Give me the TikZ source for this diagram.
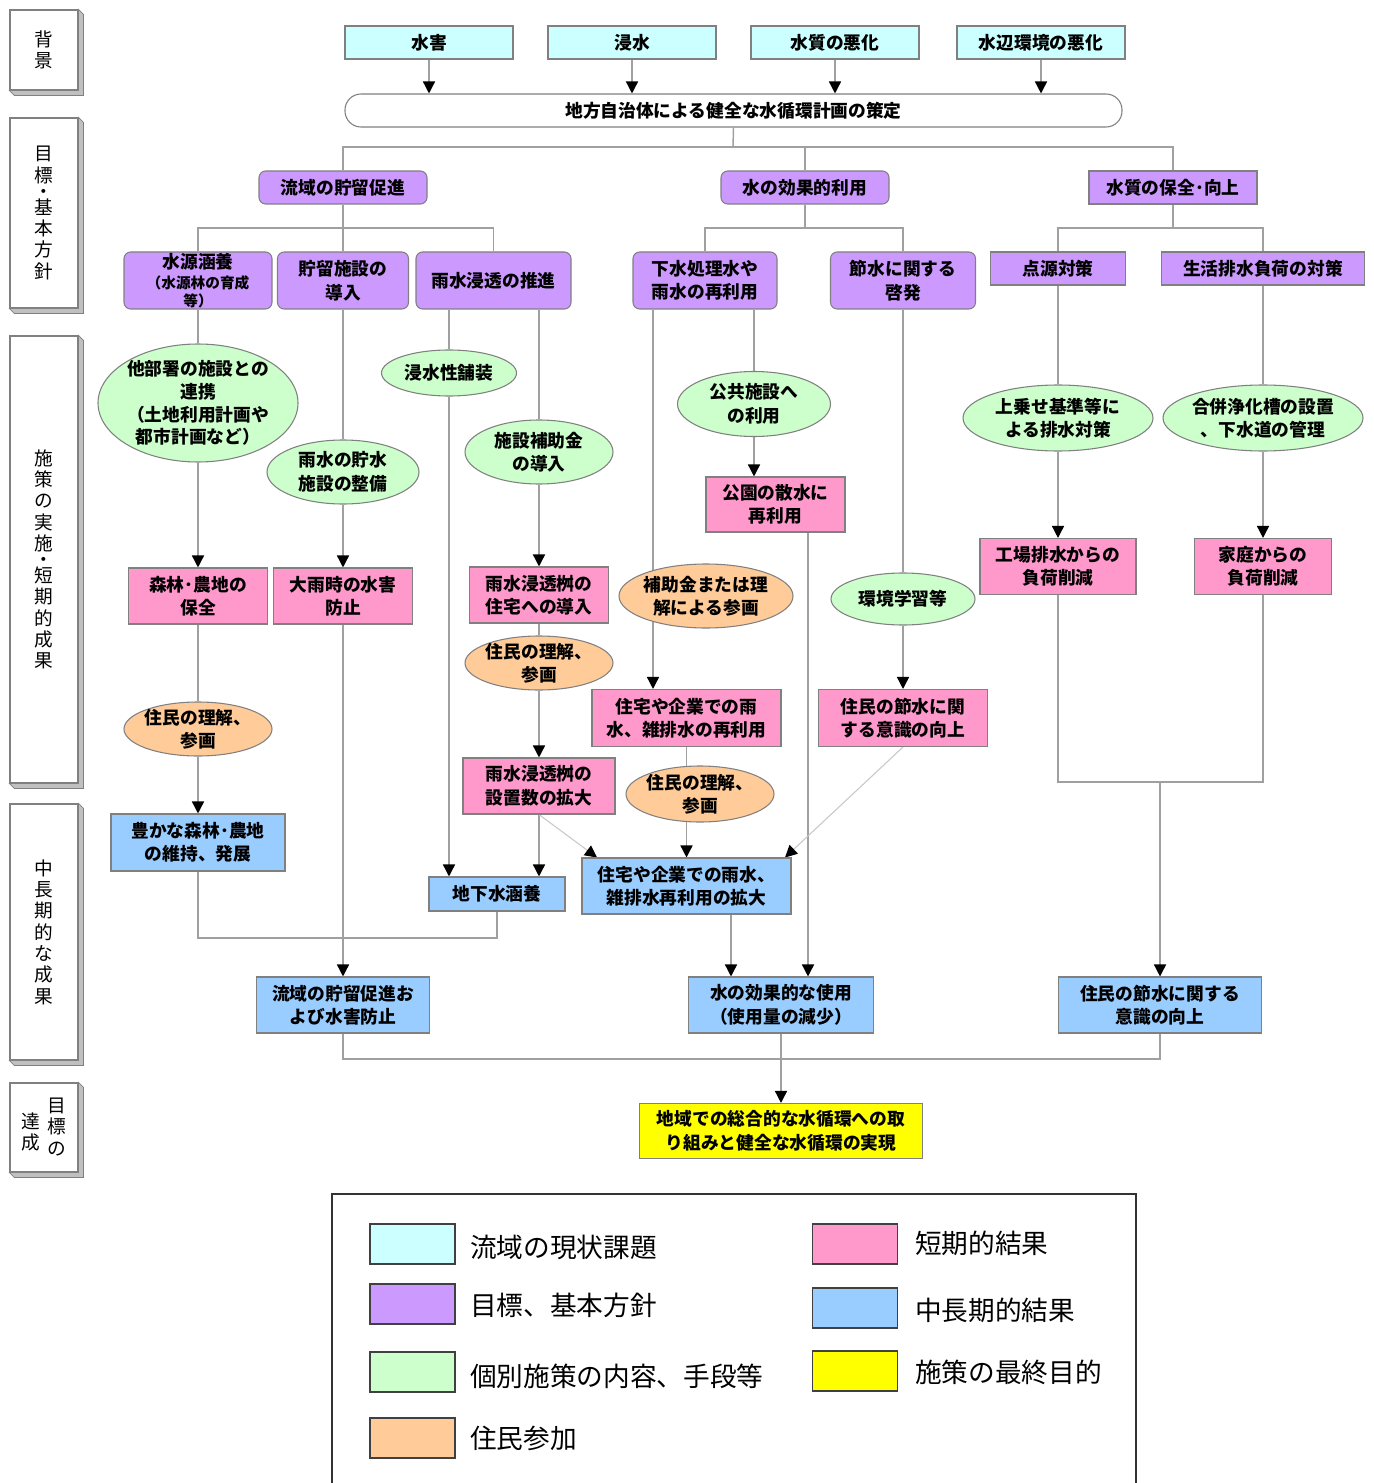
\documentclass[tikz,border=0pt]{standalone}
\usepackage{fontspec}
\setmainfont{Noto Sans CJK JP}
\usetikzlibrary{shapes.geometric,arrows.meta}
\definecolor{cCyan}{HTML}{CCFFFF}
\definecolor{cPurple}{HTML}{CC99FF}
\definecolor{cGreen}{HTML}{CCFFCC}
\definecolor{cOrange}{HTML}{FFCC99}
\definecolor{cPink}{HTML}{FF99CC}
\definecolor{cBlue}{HTML}{99CCFF}
\definecolor{cYellow}{HTML}{FFFF00}
\definecolor{edge}{HTML}{808080}
\definecolor{lineGray}{HTML}{A0A0A0}
\definecolor{lineLight}{HTML}{C8C8C8}
\definecolor{shadeGray}{HTML}{C0C0C0}
\pgfdeclarelayer{bg}
\pgfsetlayers{bg,main}
\begin{document}
\begin{tikzpicture}[x=0.75pt,y=-0.75pt,
  wh/.style 2 args={minimum width=#1*0.75pt, minimum height=#2*0.75pt},
  base/.style={draw=edge, line width=0.8pt, inner sep=0pt, align=center,
    font=\bfseries\fontsize{13.3}{17.6}\selectfont},
  issueBox/.style={base, fill=cCyan},
  goalBox/.style={base, fill=cPurple},
  measEll/.style={base, ellipse, fill=cGreen, inner sep=-6pt},
  resEll/.style={base, ellipse, fill=cOrange, inner sep=-6pt},
  shortBox/.style={base, fill=cPink},
  longBox/.style={base, fill=cBlue},
  finalBox/.style={base, fill=cYellow},
  conn/.style={draw=lineGray, line width=1.1pt},
  arr/.style={conn, -{Triangle[width=9pt,length=9pt,color=black]}},
  diagArr/.style={draw=lineLight, line width=0.8pt, -{Triangle[width=9pt,length=9pt,color=black]}},
  lab/.style={draw=edge, fill=white, line width=0.8pt, inner sep=0pt, align=center,
    font=\fontsize{14}{16}\selectfont},
  labText/.style={inner sep=0pt, align=center, font=\fontsize{14}{16}\selectfont},
  extr/.style={fill=shadeGray, draw=edge, line width=0.5pt},
  swatch/.style={draw=black!75, line width=0.9pt, inner sep=0pt},
  legText/.style={anchor=west, inner sep=0pt, font=\fontsize{20}{22}\selectfont},
]
\useasboundingbox (0,0) rectangle (1373,1483);

% ---- stage labels on the left ----
\node[lab, wh={68}{80}]  (L1) at (44,50)     {背\\景};
\node[lab, wh={68}{190}] (L2) at (44,213)    {目\\標\\[-4pt]・\\[-4pt]基\\本\\方\\針};
\node[lab, wh={68}{447}] (L3) at (44,559.5)  {施\\策\\の\\実\\施\\[-4pt]・\\[-4pt]短\\期\\的\\成\\果};
\node[lab, wh={68}{256}] (L4) at (44,932)    {中\\長\\期\\的\\な\\成\\果};
\node[lab, wh={68}{89}]  (L5) at (44,1127.5) {};
\node[labText] (L5b) at (57,1127) {目\\標\\の};
\node[labText] (L5a) at (31,1132) {達\\成};
\foreach \L in {L1,L2,L3,L4,L5}
  \path[extr] (\L.north east) -- ++(5,5) -- ([shift={(5,5)}]\L.south east)
    -- ([shift={(5,5)}]\L.south west) -- (\L.south west) -- (\L.south east) -- cycle;

% ---- background issues and plan ----
\node[issueBox, wh={168}{33}] (c1) at (429,42.5)  {水害};
\node[issueBox, wh={168}{33}] (c2) at (632,42.5)  {浸水};
\node[issueBox, wh={168}{33}] (c3) at (835,42.5)  {水質の悪化};
\node[issueBox, wh={168}{33}] (c4) at (1041,42.5) {水辺環境の悪化};
\node[base, fill=white, rounded corners=12pt, wh={777}{33}] (plan) at (733.5,110.5)
  {地方自治体による健全な水循環計画の策定};

% ---- goals ----
\node[goalBox, rounded corners=5pt, wh={168}{33}] (p1) at (343,187.5)  {流域の貯留促進};
\node[goalBox, rounded corners=5pt, wh={168}{33}] (p2) at (805,187.5)  {水の効果的利用};
\node[goalBox, wh={168}{33}]                      (p3) at (1173,187.5) {水質の保全･向上};

\node[goalBox, rounded corners=5pt, wh={148}{57}] (q1) at (198,280.5)
  {水源涵養\\[-3pt]{\fontsize{11}{12}\selectfont（水源林の育成}\\[-4pt]{\fontsize{11}{12}\selectfont 等）}};
\node[goalBox, rounded corners=5pt, wh={131}{57}] (q2) at (343,280.5)  {貯留施設の\\導入};
\node[goalBox, rounded corners=5pt, wh={155}{57}] (q3) at (493.5,280.5) {雨水浸透の推進};
\node[goalBox, rounded corners=5pt, wh={144}{57}] (q4) at (705,280.5)  {下水処理水や\\雨水の再利用};
\node[goalBox, rounded corners=5pt, wh={145}{57}] (q5) at (903,280.5)  {節水に関する\\啓発};
\node[goalBox, wh={135}{33}] (q6) at (1058,268.5) {点源対策};
\node[goalBox, wh={203}{33}] (q7) at (1263,268.5) {生活排水負荷の対策};

% ---- individual measures ----
\node[measEll, wh={200}{118}, font=\bfseries\fontsize{13.3}{17}\selectfont] (e1) at (198,403)
  {他部署の施設との\\連携\\（土地利用計画や\\都市計画など）};
\node[measEll, wh={152}{64}] (e2) at (343,472)  {雨水の貯水\\施設の整備};
\node[measEll, wh={135}{46}] (e3) at (449,373)  {浸水性舗装};
\node[measEll, wh={148}{64}] (e4) at (539,452)  {施設補助金\\の導入};
\node[measEll, wh={153}{65}] (e5) at (754,404)  {公共施設へ\\の利用};
\node[measEll, wh={190}{66}] (e6) at (1058,418) {上乗せ基準等に\\よる排水対策};
\node[measEll, wh={200}{66}] (e7) at (1263,418) {合併浄化槽の設置\\、下水道の管理};
\node[measEll, wh={144}{52}] (e8) at (903,599)  {環境学習等};

% ---- short-term results ----
\node[shortBox, wh={139}{55}] (r1) at (775.5,504.5) {公園の散水に\\再利用};
\node[shortBox, wh={156}{56}] (r2) at (1058,566.5)  {工場排水からの\\負荷削減};
\node[shortBox, wh={137}{56}] (r3) at (1263,566.5)  {家庭からの\\負荷削減};
\node[shortBox, wh={139}{56}] (r4) at (198,596)     {森林･農地の\\保全};
\node[shortBox, wh={139}{56}] (r5) at (343,596)     {大雨時の水害\\防止};
\node[shortBox, wh={139}{56}] (r6) at (539,595)     {雨水浸透桝の\\住宅への導入};
\node[shortBox, wh={189}{57}] (r7) at (686.5,718)   {住宅や企業での雨\\水、雑排水の再利用};
\node[shortBox, wh={169}{57}] (r8) at (903,718)     {住民の節水に関\\する意識の向上};
\node[shortBox, wh={152}{56}] (r9) at (539,786)     {雨水浸透桝の\\設置数の拡大};

% ---- residents' participation ----
\node[resEll, wh={174}{64}] (o1) at (706,596) {補助金または理\\解による参画};
\node[resEll, wh={148}{54}] (o2) at (198,729) {住民の理解、\\参画};
\node[resEll, wh={148}{54}] (o3) at (539,663) {住民の理解、\\参画};
\node[resEll, wh={148}{56}] (o4) at (700,794) {住民の理解、\\参画};

% ---- mid/long-term results ----
\node[longBox, wh={174}{57}] (b1) at (198,842.5)  {豊かな森林･農地\\の維持、発展};
\node[longBox, wh={136}{34}] (b2) at (497,894)    {地下水涵養};
\node[longBox, wh={209}{56}] (b3) at (686.5,886)  {住宅や企業での雨水、\\雑排水再利用の拡大};
\node[longBox, wh={173}{56}] (b4) at (343,1005)   {流域の貯留促進お\\よび水害防止};
\node[longBox, wh={185}{56}] (b5) at (781,1005)   {水の効果的な使用\\（使用量の減少）};
\node[longBox, wh={203}{56}] (b6) at (1160,1005)  {住民の節水に関する\\意識の向上};
\node[finalBox, wh={283}{55}] (y1) at (781,1131)  {地域での総合的な水循環への取\\り組みと健全な水循環の実現};

% ---- junctions and guide columns ----
\coordinate (j0) at (733,147);
\coordinate (j1) at (343,228);
\coordinate (j2) at (805,228);
\coordinate (j3) at (1173,228);
\coordinate (j4) at (497,938);
\coordinate (j5) at (1160,782);
\coordinate (j6) at (781,1059);
\coordinate (x449) at (449,0);
\coordinate (x539) at (539,0);
\coordinate (x597) at (597,0);
\coordinate (x653) at (653,0);
\coordinate (x731) at (731,0);
\coordinate (x754) at (754,0);
\coordinate (x785) at (785,0);
\coordinate (x808) at (808,0);

\begin{pgfonlayer}{bg}
  \foreach \c in {c1,c2,c3,c4} \draw[arr] (\c.south) -- (\c.south |- plan.north);
  \draw[conn] (plan.south) -- (j0);
  \draw[conn] (p1.north) |- (j0);
  \draw[conn] (p2.north) |- (j0);
  \draw[conn] (p3.north) |- (j0);
  \draw[conn] (p1.south) -- (q2.north);
  \draw[conn] (q1.north) |- (j1);
  \draw[conn] (q3.north) |- (j1);
  \draw[conn] (p2.south) -- (j2);
  \draw[conn] (q4.north) |- (j2);
  \draw[conn] (q5.north) |- (j2);
  \draw[conn] (p3.south) -- (j3);
  \draw[conn] (q6.north) |- (j3);
  \draw[conn] (q7.north) |- (j3);
  % water source column
  \draw[conn] (q1.south) -- (e1.north);
  \draw[arr]  (e1.south) -- (r4.north);
  \draw[conn] (r4.south) -- (o2.north);
  \draw[arr]  (o2.south) -- (b1.north);
  \draw[conn] (b1.south) |- (j4) -- (b2.south);
  % storage column
  \draw[conn] (q2.south) -- (e2.north);
  \draw[arr]  (e2.south) -- (r5.north);
  \draw[arr]  (r5.south) -- (b4.north);
  % infiltration columns
  \draw[conn] (q3.south -| x449) -- (e3.north);
  \draw[arr]  (e3.south) -- (b2.north -| x449);
  \draw[conn] (q3.south -| x539) -- (e4.north);
  \draw[arr]  (e4.south) -- (r6.north);
  \draw[conn] (r6.south) -- (o3.north);
  \draw[arr]  (o3.south) -- (r9.north);
  \draw[arr]  (r9.south) -- (b2.north -| x539);
  \draw[diagArr] (r9.south) -- (b3.north -| x597);
  % reuse columns
  \draw[arr]  (q4.south -| x653) -- (r7.north -| x653);
  \draw[conn] (q4.south -| x754) -- (e5.north);
  \draw[arr]  (e5.south) -- (r1.north -| x754);
  \draw[arr]  (r1.south -| x808) -- (b5.north -| x808);
  \draw[arr]  (r7.south) -- (b3.north);
  \draw[arr]  (b3.south -| x731) -- (b5.north -| x731);
  \draw[diagArr] (r8.south) -- (b3.north -| x785);
  % water saving column
  \draw[conn] (q5.south) -- (e8.north);
  \draw[arr]  (e8.south) -- (r8.north);
  % water quality columns
  \draw[conn] (q6.south) -- (e6.north);
  \draw[arr]  (e6.south) -- (r2.north);
  \draw[conn] (r2.south) |- (j5);
  \draw[conn] (q7.south) -- (e7.north);
  \draw[arr]  (e7.south) -- (r3.north);
  \draw[conn] (r3.south) |- (j5);
  \draw[arr]  (j5) -- (b6.north);
  % final goal
  \draw[conn] (b4.south) |- (j6);
  \draw[conn] (b6.south) |- (j6);
  \draw[arr]  (b5.south) -- (y1.north);
\end{pgfonlayer}

% ---- legend ----
\draw[line width=1.4pt, draw=black!80] (332,1500) -- (332,1194) -- (1136,1194) -- (1136,1500);
\node[swatch, fill=cCyan,   wh={85}{40}] (k1) at (412.5,1244) {};
\node[swatch, fill=cPurple, wh={85}{40}] (k2) at (412.5,1304) {};
\node[swatch, fill=cGreen,  wh={85}{40}] (k3) at (412.5,1372) {};
\node[swatch, fill=cOrange, wh={85}{40}] (k4) at (412.5,1438) {};
\node[swatch, fill=cPink,   wh={85}{40}] (k5) at (855,1244)   {};
\node[swatch, fill=cBlue,   wh={85}{40}] (k6) at (855,1308)   {};
\node[swatch, fill=cYellow, wh={85}{40}] (k7) at (855,1371)   {};
\node[legText] (t1) at (470,1247) {流域の現状課題};
\node[legText] (t2) at (470,1305) {目標、基本方針};
\node[legText] (t3) at (470,1376) {個別施策の内容、手段等};
\node[legText] (t4) at (470,1438) {住民参加};
\node[legText] (t5) at (915,1243) {短期的結果};
\node[legText] (t6) at (915,1310) {中長期的結果};
\node[legText] (t7) at (915,1372) {施策の最終目的};
\end{tikzpicture}
\end{document}
